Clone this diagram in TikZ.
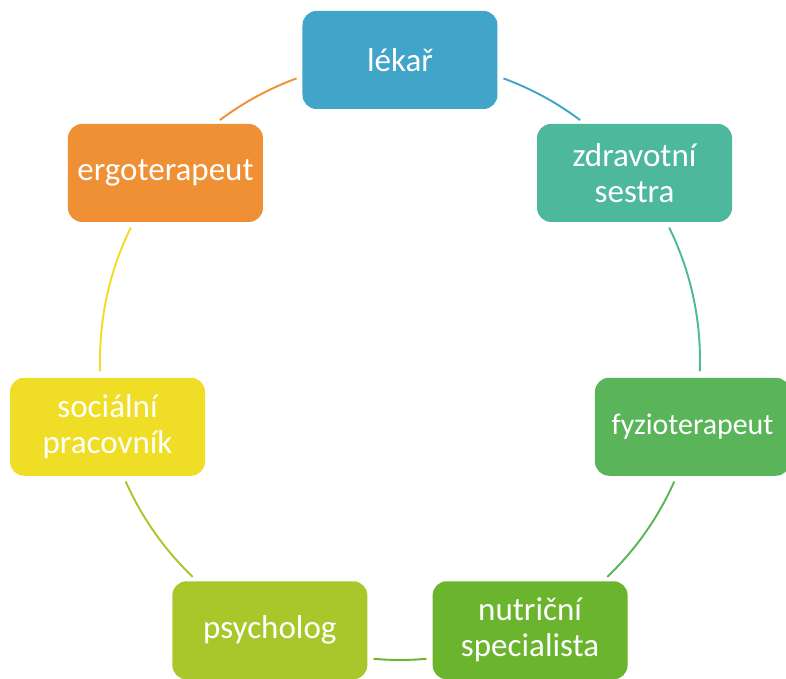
\documentclass[tikz,border=0pt]{standalone}
\usepackage{fontspec}
\setmainfont{Carlito}
\usepackage{xcolor}
\definecolor{lekarblue}{HTML}{41A5C9}
\definecolor{sestrateal}{HTML}{4DB89B}
\definecolor{fyziogreen}{HTML}{5AB55A}
\definecolor{nutrigreen}{HTML}{6AB42E}
\definecolor{psychlime}{HTML}{A9C72B}
\definecolor{socyellow}{HTML}{F0DD25}
\definecolor{ergoorange}{HTML}{F09035}
\usepackage{tikz}

\begin{document}
\begin{tikzpicture}[
    rolebox/.style={rounded corners=8pt, minimum width=3.9cm, minimum height=1.96cm, align=center, text=white, inner sep=2pt, font=\fontsize{18.8}{20.5}\selectfont},
    ringlink/.style={line width=1.1pt}
  ]
        \useasboundingbox (-8,-6.38) rectangle (7.72,7.2);
        % team members around the ring
        \node[rolebox, fill=lekarblue] (lekar) at (90:6) {lékař};
        \node[rolebox, fill=sestrateal] (sestra) at (38.57:6) {zdravotní\\sestra};
        \node[rolebox, fill=fyziogreen, font=\fontsize{17}{19}\selectfont] (fyzio) at (-12.86:6) {fyzioterapeut};
        \node[rolebox, fill=nutrigreen] (nutri) at (-64.29:6) {nutriční\\specialista};
        \node[rolebox, fill=psychlime] (psych) at (-115.71:6) {psycholog};
        \node[rolebox, fill=socyellow] (social) at (-167.14:6) {sociální\\pracovník};
        \node[rolebox, fill=ergoorange] (ergo) at (141.43:6) {ergoterapeut};
        % arcs between neighbours
        \foreach \i/\from/\to/\col in {1/69.83/53.1/lekarblue, 2/26.2/-2.19/sestrateal, 3/-23.9/-46.3/fyziogreen, 4/-84.94/-95.06/nutrigreen, 5/226.3/203.9/psychlime, 6/182.19/153.8/socyellow, 7/126.9/110.17/ergoorange}{
          \coordinate (arc\i) at (\from:6);
          \draw[ringlink, \col] (arc\i) arc[start angle=\from, end angle=\to, radius=6];
        }
      \end{tikzpicture}
\end{document}
